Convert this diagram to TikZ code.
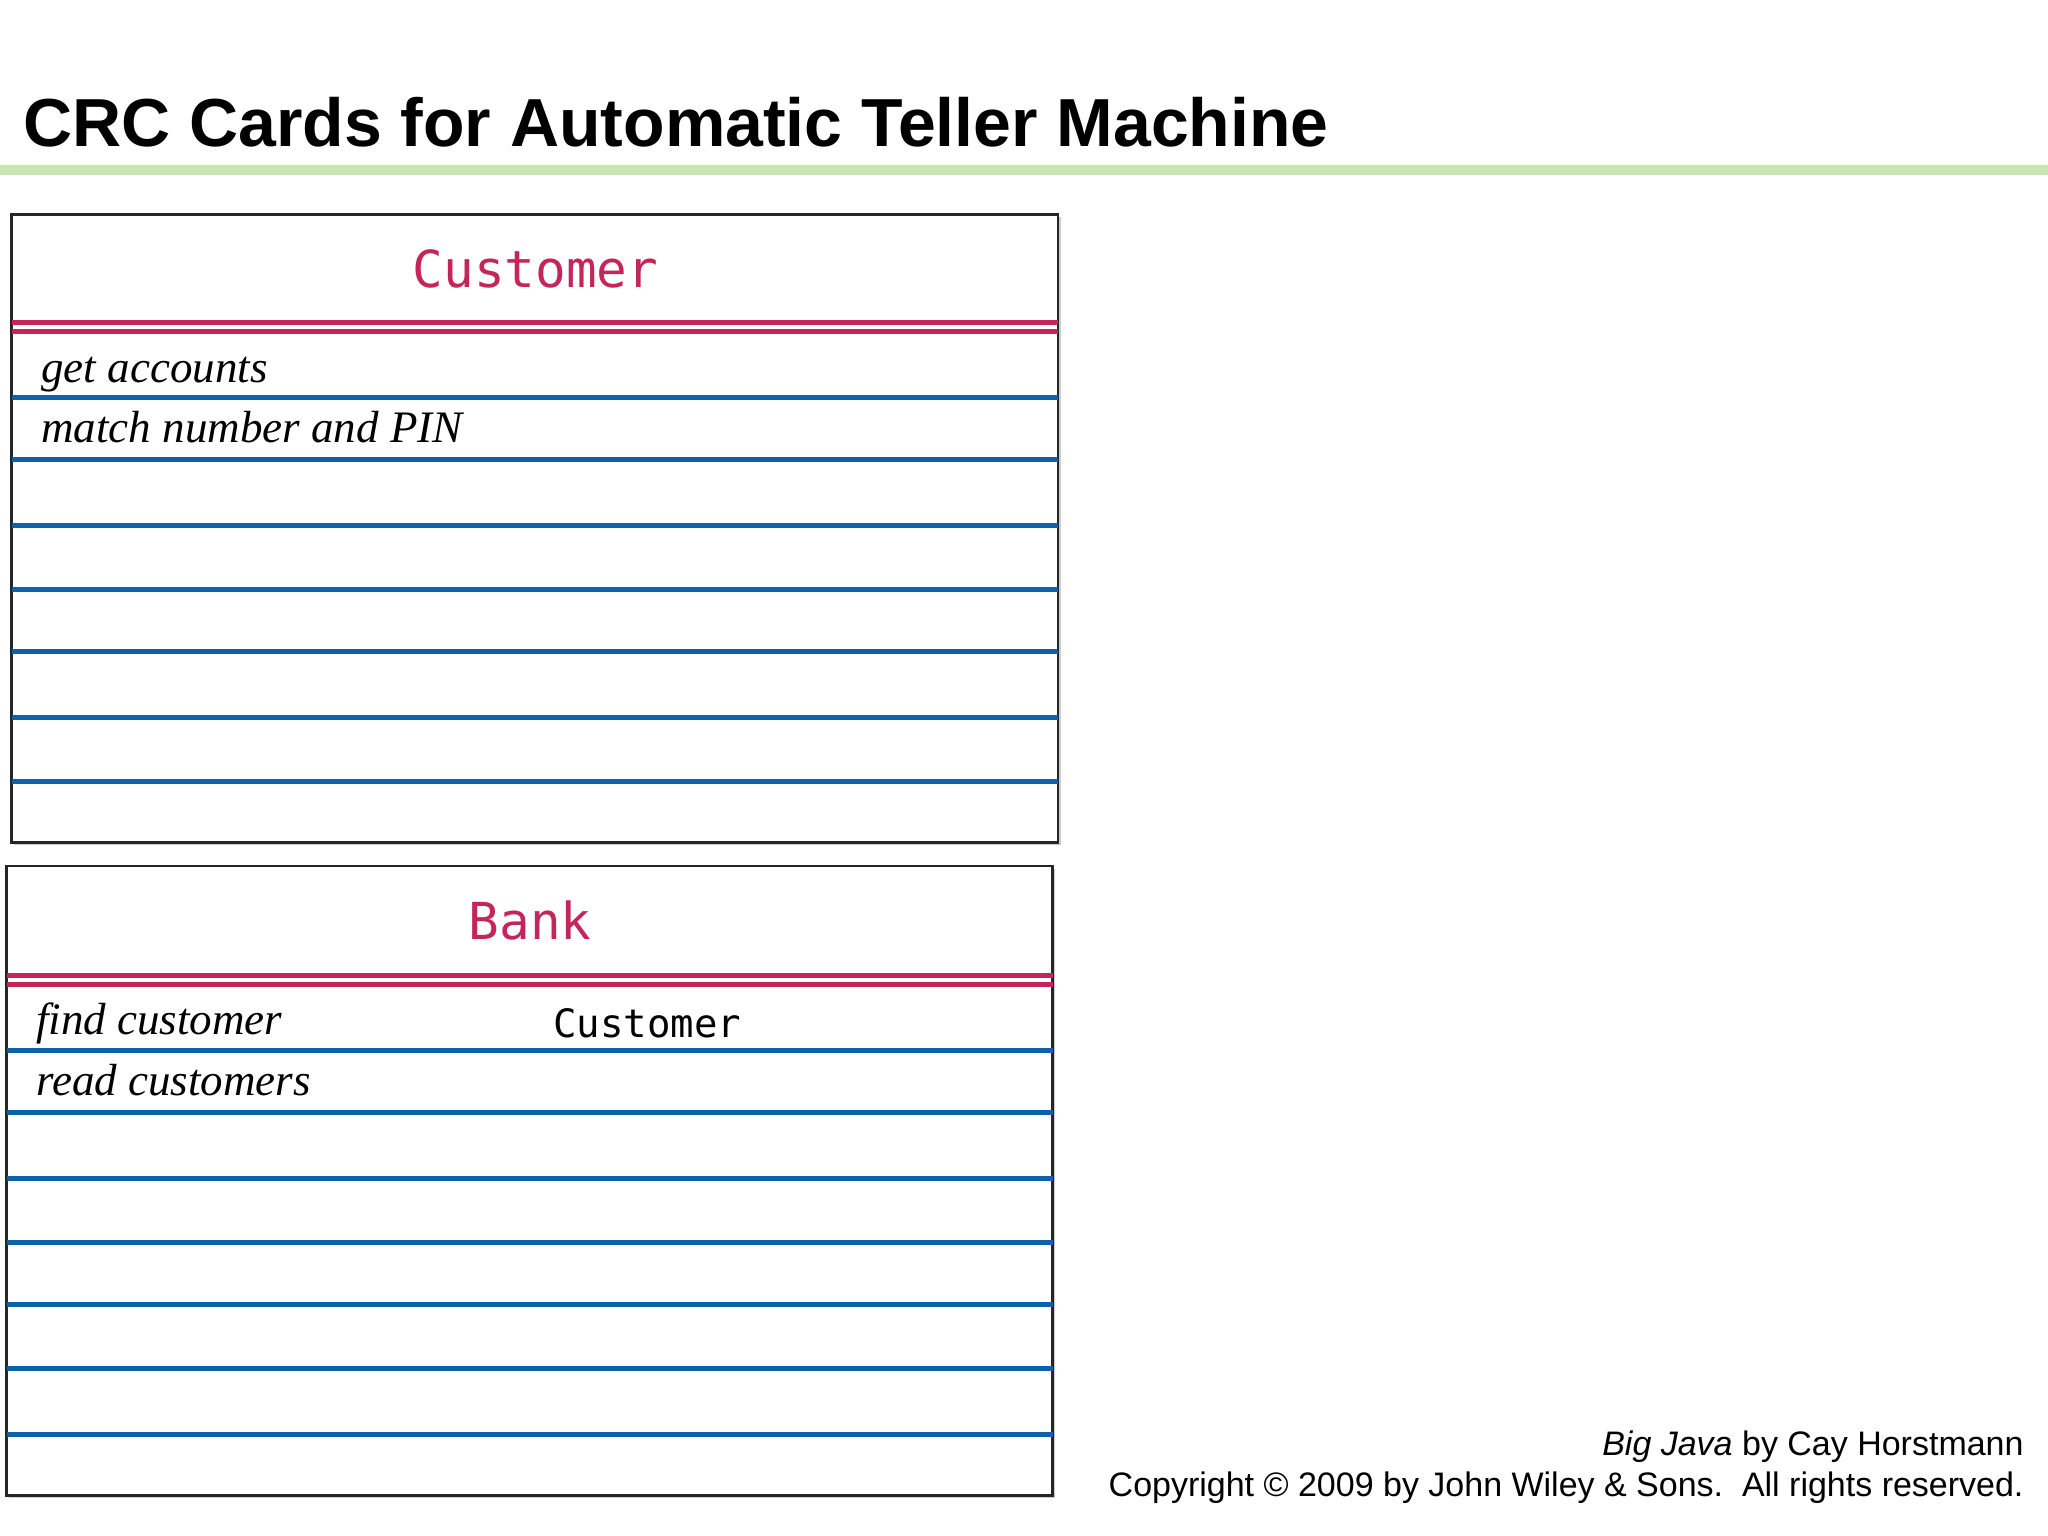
\documentclass[tikz,border=0pt]{standalone}
\usepackage{fontspec}
\setmainfont{Liberation Serif}
\setsansfont{Liberation Sans}
\setmonofont{DejaVu Sans Mono}
\definecolor{crcred}{HTML}{C4265A}
\definecolor{crcblue}{HTML}{1060A8}
\definecolor{titlegreen}{HTML}{C8E6B4}
\tikzset{
  cardbox/.style={draw=black!85, line width=0.6pt},
  redline/.style={crcred, line width=1.1pt},
  blueline/.style={crcblue, line width=1.1pt},
  cardtitle/.style={font=\ttfamily\fontsize{11.1}{13}\selectfont, text=crcred},
  resp/.style={font=\itshape\fontsize{9.8}{12}\selectfont, anchor=base west, inner sep=0},
  collab/.style={font=\ttfamily\fontsize{8.5}{10}\selectfont, anchor=base west, inner sep=0},
  foot/.style={font=\sffamily\fontsize{7.4}{9}\selectfont, anchor=base east, inner sep=0}
}
\begin{document}
\begin{tikzpicture}[x=0.01cm,y=-0.01cm]
\useasboundingbox (0,0) rectangle (1568,1176);
\node[anchor=base west, inner sep=0, font=\sffamily\bfseries\fontsize{14.8}{18}\selectfont] (title) at (17,112) {CRC Cards for Automatic Teller Machine};
\draw[titlegreen, line width=2.3pt] (0,130) -- (1568,130);
% card 1
\fill[black!20] (11,166) rectangle (812,647);
\draw[cardbox, fill=white] (9,164) rectangle (810,645);
\node[cardtitle] (c1) at (410,206) {Customer};
\foreach \y in {247,254} \draw[redline] (9,\y) -- (810,\y);
\foreach \y in {304,352,402,451,499,549,598} \draw[blueline] (9,\y) -- (810,\y);
\node[resp] (r1) at (31,293) {get accounts};
\node[resp] (r2) at (31,339) {match number and PIN};
% card 2
\fill[black!20] (7,665) rectangle (808,1147);
\draw[cardbox, fill=white] (5,663) rectangle (806,1145);
\node[cardtitle] (c2) at (406,705) {Bank};
\foreach \y in {747,754} \draw[redline] (5,\y) -- (806,\y);
\foreach \y in {804,852,902,951,999,1048,1098} \draw[blueline] (5,\y) -- (806,\y);
\node[resp] (r3) at (27,792) {find customer};
\node[collab] (k1) at (423,794) {Customer};
\node[resp] (r4) at (27,839) {read customers};
% footer
\node[foot] (f1) at (1550,1114) {\textit{Big Java} by Cay Horstmann};
\node[foot] (f2) at (1550,1146) {Copyright © 2009 by John Wiley \& Sons.\ \ All rights reserved.};
\end{tikzpicture}
\end{document}
